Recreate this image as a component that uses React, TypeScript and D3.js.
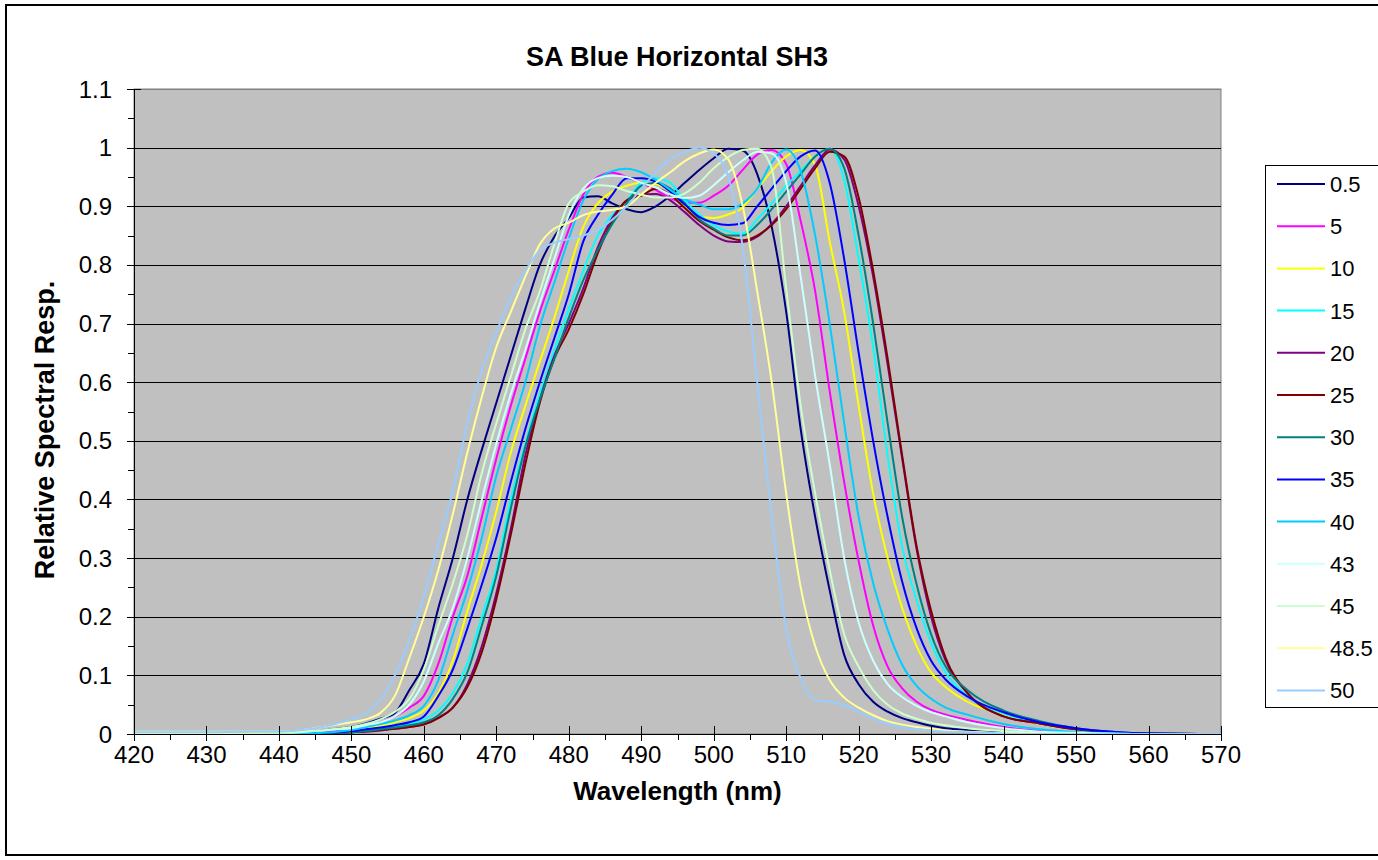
import React, { useRef, useEffect } from 'react';
import * as d3 from 'd3';

// wavelength grid (nm)
const wavelengths = [420, 430, 440, 444, 446, 448, 450, 452, 454, 456, 458, 460, 462, 464, 466, 468, 470, 472, 474, 476, 478, 480, 482, 484, 486, 488, 490, 492, 494, 496, 498, 500, 502, 504, 506, 508, 510, 512, 514, 516, 518, 520, 522, 524, 526, 528, 530, 532, 535, 540, 545, 550, 555, 560, 570];

const s0_5 = [0.002, 0.002, 0.002, 0.003, 0.006, 0.009, 0.012, 0.018, 0.026, 0.036, 0.075, 0.12, 0.215, 0.3, 0.4, 0.485, 0.565, 0.645, 0.725, 0.8, 0.848, 0.88, 0.915, 0.917, 0.905, 0.895, 0.89, 0.9, 0.918, 0.94, 0.962, 0.982, 0.998, 0.995, 0.955, 0.865, 0.72, 0.52, 0.37, 0.245, 0.135, 0.085, 0.055, 0.038, 0.027, 0.02, 0.014, 0.01, 0.007, 0.004, 0.002, 0.001, 0, 0, 0];
const s5 = [0.001, 0.001, 0.001, 0.002, 0.003, 0.005, 0.008, 0.013, 0.02, 0.03, 0.045, 0.065, 0.12, 0.2, 0.27, 0.37, 0.47, 0.56, 0.64, 0.72, 0.79, 0.86, 0.92, 0.95, 0.957, 0.95, 0.94, 0.928, 0.914, 0.906, 0.906, 0.918, 0.935, 0.962, 0.988, 0.996, 0.972, 0.875, 0.755, 0.585, 0.43, 0.295, 0.185, 0.115, 0.078, 0.055, 0.041, 0.033, 0.024, 0.012, 0.005, 0.002, 0.001, 0, 0];
const s10 = [0.001, 0.001, 0.001, 0.001, 0.002, 0.003, 0.005, 0.009, 0.014, 0.02, 0.027, 0.04, 0.07, 0.125, 0.21, 0.29, 0.38, 0.48, 0.56, 0.635, 0.71, 0.79, 0.865, 0.905, 0.925, 0.935, 0.94, 0.938, 0.925, 0.9, 0.882, 0.88, 0.886, 0.898, 0.93, 0.96, 0.985, 0.996, 0.97, 0.84, 0.72, 0.56, 0.41, 0.3, 0.215, 0.15, 0.105, 0.08, 0.055, 0.033, 0.017, 0.008, 0.003, 0.001, 0];
const s15 = [0.001, 0.001, 0.001, 0.001, 0.001, 0.002, 0.004, 0.006, 0.009, 0.013, 0.018, 0.025, 0.04, 0.07, 0.12, 0.2, 0.28, 0.4, 0.495, 0.58, 0.655, 0.725, 0.79, 0.85, 0.885, 0.91, 0.94, 0.948, 0.94, 0.91, 0.886, 0.868, 0.857, 0.853, 0.878, 0.905, 0.935, 0.96, 0.985, 0.998, 0.945, 0.81, 0.66, 0.475, 0.32, 0.228, 0.155, 0.105, 0.065, 0.035, 0.018, 0.008, 0.003, 0.001, 0];
const s20 = [0, 0, 0, 0, 0.001, 0.002, 0.003, 0.004, 0.006, 0.009, 0.012, 0.017, 0.028, 0.045, 0.085, 0.15, 0.24, 0.35, 0.475, 0.57, 0.645, 0.7, 0.76, 0.83, 0.88, 0.91, 0.92, 0.921, 0.91, 0.89, 0.868, 0.85, 0.84, 0.839, 0.848, 0.87, 0.9, 0.935, 0.97, 0.997, 0.98, 0.9, 0.78, 0.63, 0.47, 0.315, 0.2, 0.125, 0.07, 0.03, 0.018, 0.008, 0.003, 0.001, 0];
const s25 = [0, 0, 0, 0, 0.001, 0.002, 0.003, 0.005, 0.007, 0.009, 0.012, 0.016, 0.027, 0.045, 0.08, 0.14, 0.23, 0.34, 0.46, 0.565, 0.64, 0.69, 0.75, 0.82, 0.875, 0.91, 0.918, 0.93, 0.92, 0.897, 0.875, 0.86, 0.847, 0.842, 0.85, 0.868, 0.895, 0.93, 0.965, 0.993, 0.985, 0.915, 0.79, 0.64, 0.475, 0.32, 0.21, 0.13, 0.07, 0.03, 0.018, 0.008, 0.003, 0.001, 0];
const s30 = [0.001, 0.001, 0.001, 0.001, 0.001, 0.002, 0.003, 0.005, 0.008, 0.011, 0.015, 0.02, 0.032, 0.06, 0.105, 0.185, 0.27, 0.385, 0.49, 0.57, 0.64, 0.71, 0.774, 0.825, 0.87, 0.905, 0.935, 0.94, 0.93, 0.905, 0.878, 0.862, 0.85, 0.85, 0.868, 0.895, 0.925, 0.955, 0.985, 0.998, 0.965, 0.85, 0.7, 0.53, 0.37, 0.255, 0.17, 0.115, 0.075, 0.04, 0.022, 0.01, 0.004, 0.001, 0];
const s35 = [0.001, 0.001, 0.001, 0.001, 0.002, 0.003, 0.005, 0.008, 0.011, 0.015, 0.02, 0.03, 0.065, 0.11, 0.18, 0.255, 0.335, 0.43, 0.52, 0.6, 0.675, 0.75, 0.84, 0.885, 0.92, 0.948, 0.948, 0.942, 0.925, 0.903, 0.882, 0.872, 0.868, 0.871, 0.9, 0.93, 0.96, 0.985, 0.995, 0.94, 0.81, 0.65, 0.5, 0.37, 0.26, 0.18, 0.125, 0.093, 0.064, 0.037, 0.02, 0.01, 0.004, 0.001, 0];
const s40 = [0.001, 0.001, 0.001, 0.001, 0.002, 0.004, 0.007, 0.012, 0.017, 0.023, 0.032, 0.048, 0.092, 0.17, 0.245, 0.335, 0.44, 0.52, 0.6, 0.695, 0.77, 0.845, 0.91, 0.946, 0.96, 0.964, 0.958, 0.945, 0.928, 0.912, 0.903, 0.895, 0.895, 0.905, 0.93, 0.975, 0.997, 0.96, 0.85, 0.7, 0.53, 0.37, 0.257, 0.178, 0.118, 0.082, 0.06, 0.045, 0.033, 0.017, 0.008, 0.003, 0.001, 0, 0];
const s43 = [0.004, 0.004, 0.004, 0.005, 0.006, 0.008, 0.01, 0.015, 0.02, 0.03, 0.05, 0.09, 0.155, 0.215, 0.3, 0.4, 0.495, 0.58, 0.655, 0.735, 0.81, 0.885, 0.93, 0.948, 0.952, 0.95, 0.94, 0.932, 0.92, 0.914, 0.918, 0.936, 0.958, 0.978, 0.993, 0.99, 0.94, 0.78, 0.61, 0.46, 0.3, 0.19, 0.125, 0.085, 0.063, 0.048, 0.037, 0.03, 0.02, 0.01, 0.004, 0.002, 0.001, 0, 0];
const s45 = [0.002, 0.002, 0.002, 0.004, 0.006, 0.009, 0.012, 0.017, 0.025, 0.038, 0.06, 0.11, 0.185, 0.257, 0.34, 0.445, 0.53, 0.61, 0.69, 0.755, 0.835, 0.905, 0.925, 0.936, 0.934, 0.926, 0.92, 0.915, 0.915, 0.922, 0.94, 0.965, 0.984, 0.996, 0.998, 0.965, 0.76, 0.56, 0.41, 0.28, 0.17, 0.115, 0.075, 0.05, 0.035, 0.026, 0.019, 0.015, 0.01, 0.005, 0.002, 0.001, 0, 0, 0];
const s48_5 = [0.002, 0.002, 0.003, 0.008, 0.012, 0.016, 0.02, 0.025, 0.036, 0.065, 0.13, 0.2, 0.28, 0.375, 0.48, 0.575, 0.66, 0.72, 0.78, 0.835, 0.862, 0.872, 0.885, 0.891, 0.894, 0.9, 0.92, 0.94, 0.958, 0.977, 0.99, 0.997, 0.98, 0.9, 0.755, 0.6, 0.41, 0.25, 0.15, 0.092, 0.062, 0.045, 0.032, 0.022, 0.016, 0.012, 0.009, 0.006, 0.004, 0.002, 0.001, 0, 0, 0, 0];
const s50 = [0.003, 0.003, 0.004, 0.008, 0.012, 0.018, 0.025, 0.035, 0.058, 0.1, 0.16, 0.235, 0.325, 0.415, 0.53, 0.62, 0.685, 0.745, 0.79, 0.825, 0.838, 0.844, 0.85, 0.86, 0.877, 0.9, 0.93, 0.958, 0.98, 0.993, 1.0, 0.99, 0.95, 0.83, 0.6, 0.37, 0.18, 0.095, 0.058, 0.055, 0.049, 0.038, 0.026, 0.017, 0.011, 0.008, 0.006, 0.004, 0.003, 0.001, 0, 0, 0, 0, 0];

const seriesNames = ['0.5', '5', '10', '15', '20', '25', '30', '35', '40', '43', '45', '48.5', '50'];
const seriesValues = [s0_5, s5, s10, s15, s20, s25, s30, s35, s40, s43, s45, s48_5, s50];
const seriesColors = ['#000080', '#FF00FF', '#FFFF00', '#00FFFF', '#800080', '#800000', '#008080', '#0000FF', '#00CCFF', '#CCFFFF', '#CCFFCC', '#FFFF99', '#99CCFF'];

const xTickLabels = [420, 430, 440, 450, 460, 470, 480, 490, 500, 510, 520, 530, 540, 550, 560, 570];
const yTickLabels = [0, 0.1, 0.2, 0.3, 0.4, 0.5, 0.6, 0.7, 0.8, 0.9, 1, 1.1];

const FONT = 'Liberation Sans, Arial, sans-serif';

const Chart: React.FC = () => {
  const svgRef = useRef<SVGSVGElement | null>(null);

  useEffect(() => {
    const svg = d3.select(svgRef.current);
    svg.selectAll('*').remove();

    const left = 134, right = 1221, top = 89, bottom = 734;
    const x = d3.scaleLinear().domain([420, 570]).range([left, right]);
    const y = d3.scaleLinear().domain([0, 1.1]).range([bottom, top]);

    // chart frame
    svg.append('rect')
      .attr('x', 6).attr('y', 5).attr('width', 1390).attr('height', 850)
      .attr('fill', '#fff').attr('stroke', '#000').attr('stroke-width', 2);

    svg.append('text')
      .attr('x', 677).attr('y', 66)
      .attr('text-anchor', 'middle')
      .style('font-family', FONT).style('font-weight', 'bold').style('font-size', '27px')
      .text('SA Blue Horizontal SH3');

    // plot area
    svg.append('rect')
      .attr('x', left).attr('y', top).attr('width', right - left).attr('height', bottom - top)
      .attr('fill', '#C0C0C0').attr('stroke', '#808080').attr('stroke-width', 1);

    svg.append('g')
      .selectAll('line')
      .data(yTickLabels.filter(d => d > 0))
      .enter()
      .append('line')
      .attr('x1', left).attr('x2', right)
      .attr('y1', d => Math.round(y(d)) + 0.5).attr('y2', d => Math.round(y(d)) + 0.5)
      .attr('stroke', d => (d > 1.05 ? '#808080' : '#000')).attr('stroke-width', 1);

    svg.append('clipPath').attr('id', 'plotClip')
      .append('rect').attr('x', left).attr('y', top).attr('width', right - left).attr('height', bottom - top);

    const line = d3.line<number>()
      .x((_, i) => x(wavelengths[i]))
      .y(d => y(d))
      .curve(d3.curveMonotoneX);

    svg.append('g').attr('clip-path', 'url(#plotClip)')
      .selectAll('path')
      .data(seriesValues)
      .enter()
      .append('path')
      .attr('d', d => line(d))
      .attr('fill', 'none')
      .attr('stroke', (_, i) => seriesColors[i])
      .attr('stroke-width', 2)
      .attr('stroke-linejoin', 'round');

    // axes
    const axis = svg.append('g').attr('stroke', '#000').attr('stroke-width', 1);
    axis.append('line').attr('x1', left + 0.5).attr('x2', left + 0.5).attr('y1', top).attr('y2', bottom);
    axis.append('line').attr('x1', left).attr('x2', right).attr('y1', bottom + 0.5).attr('y2', bottom + 0.5);

    yTickLabels.forEach(v => {
      const yy = Math.round(y(v)) + 0.5;
      axis.append('line').attr('x1', left - 7).attr('x2', left + 7).attr('y1', yy).attr('y2', yy);
      if (v < 1.05) {
        const ym = Math.round(y(v + 0.05)) + 0.5;
        axis.append('line').attr('x1', left - 6).attr('x2', left).attr('y1', ym).attr('y2', ym);
      }
    });
    xTickLabels.forEach(v => {
      const xx = Math.round(x(v)) + 0.5;
      axis.append('line').attr('x1', xx).attr('x2', xx).attr('y1', bottom - 8).attr('y2', bottom + 7);
      if (v < 570) {
        const xm = Math.round(x(v + 5)) + 0.5;
        axis.append('line').attr('x1', xm).attr('x2', xm).attr('y1', bottom).attr('y2', bottom + 6);
      }
    });

    svg.append('g')
      .selectAll('text')
      .data(yTickLabels)
      .enter()
      .append('text')
      .attr('x', 112).attr('y', d => y(d) + 8.5)
      .attr('text-anchor', 'end')
      .style('font-family', FONT).style('font-size', '24px')
      .text(d => String(d));

    svg.append('g')
      .selectAll('text')
      .data(xTickLabels)
      .enter()
      .append('text')
      .attr('x', d => x(d)).attr('y', 763)
      .attr('text-anchor', 'middle')
      .style('font-family', FONT).style('font-size', '24px')
      .text(d => String(d));

    svg.append('text')
      .attr('x', (left + right) / 2).attr('y', 800)
      .attr('text-anchor', 'middle')
      .style('font-family', FONT).style('font-weight', 'bold').style('font-size', '26px')
      .text('Wavelength (nm)');

    svg.append('text')
      .attr('transform', `translate(54, 430) rotate(-90)`)
      .attr('text-anchor', 'middle')
      .style('font-family', FONT).style('font-weight', 'bold').style('font-size', '27px')
      .text('Relative Spectral Resp.');

    // legend
    const lg = svg.append('g');
    lg.append('rect')
      .attr('x', 1265.5).attr('y', 165.5).attr('width', 140).attr('height', 542)
      .attr('fill', '#fff').attr('stroke', '#000').attr('stroke-width', 1);
    seriesNames.forEach((name, i) => {
      const ly = 184 + i * 42.2;
      lg.append('line')
        .attr('x1', 1277).attr('x2', 1325).attr('y1', ly).attr('y2', ly)
        .attr('stroke', seriesColors[i]).attr('stroke-width', 2);
      lg.append('text')
        .attr('x', 1330).attr('y', ly + 8)
        .style('font-family', FONT).style('font-size', '22px')
        .text(name);
    });
  }, []);

  return <svg ref={svgRef} width={1378} height={860} style={{ position: 'absolute', left: 0, top: 0 }}></svg>;
};

export default function App() {
  return <Chart />;
}
